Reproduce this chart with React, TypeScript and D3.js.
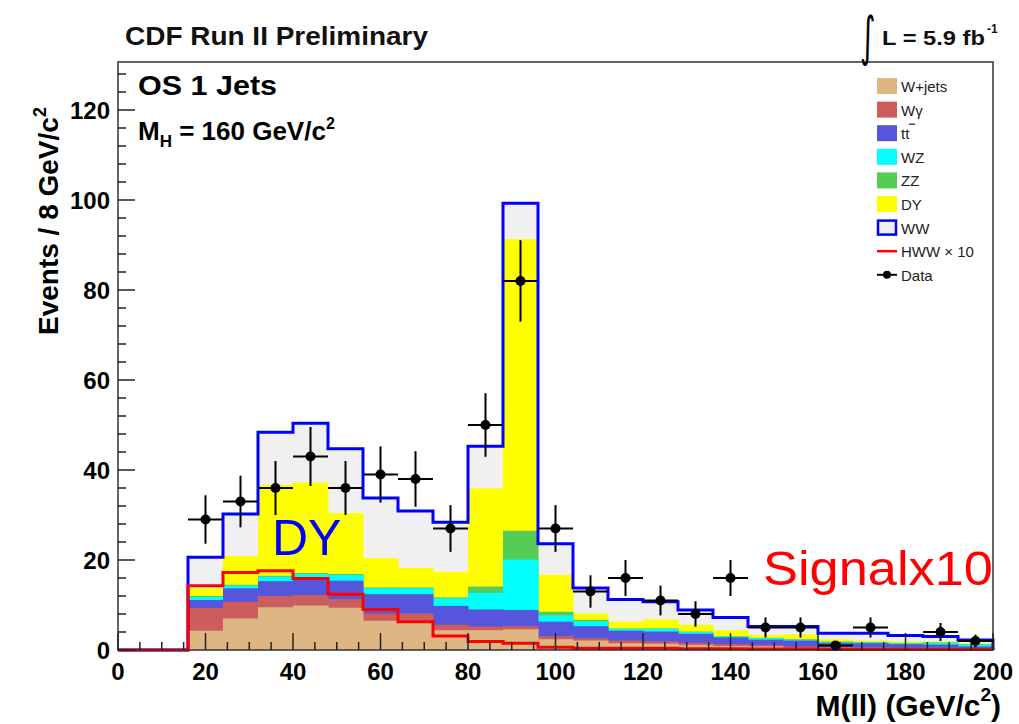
import React from "react";
import * as d3 from "d3";

// cumulative stack values per bin, 8 GeV bins from 0 .. 200 (first two bins empty)
const wjets = [0, 0, 4.3, 7.0, 9.5, 9.9, 9.4, 6.5, 6.5, 4.4, 4.4, 4.6, 2.4, 2.1, 1.5, 1.4, 1.1, 0.9, 0.8, 0.5, 0.4, 0.3, 0.3, 0.3, 0.2];
const wgamma = [0, 0, 5.0, 3.7, 2.5, 2.3, 1.9, 1.6, 1.6, 1.2, 0.8, 0.7, 0.7, 0.5, 0.6, 0.5, 0.5, 0.4, 0.3, 0.3, 0.3, 0.3, 0.2, 0.2, 0.2];
const ttbar = [0, 0, 1.8, 3.0, 3.3, 3.5, 4.1, 4.3, 4.3, 4.2, 3.8, 3.6, 3.2, 2.7, 2.2, 2.2, 2.0, 1.5, 1.2, 1.3, 0.9, 0.9, 0.8, 0.7, 0.4];
const wz = [0, 0, 0.7, 0.6, 1.0, 1.2, 1.3, 1.3, 1.3, 1.7, 3.7, 11.2, 1.4, 1.1, 0.4, 0.6, 0.4, 0.2, 0.3, 0.2, 0.2, 0.2, 0.2, 0.4, 0.4];
const zz = [0, 0, 0.2, 0.2, 0.2, 0.2, 0.2, 0.2, 0.2, 0.2, 1.4, 6.4, 0.8, 0.3, 0.1, 0.1, 0.1, 0.1, 0.1, 0.1, 0.1, 0.1, 0.1, 0.1, 0.1];
const dy = [0, 0, 1.7, 6.4, 20.2, 20.1, 13.5, 6.5, 4.4, 5.7, 21.8, 64.8, 8.2, 1.4, 1.5, 2.0, 1.5, 1.3, 0.6, 1.1, 0.5, 0.3, 0.3, 0.2, 0.2];
const ww = [0, 0, 6.9, 9.3, 11.7, 13.2, 14.3, 13.4, 12.6, 11.0, 9.4, 8.0, 6.9, 5.7, 4.9, 3.9, 3.3, 2.8, 1.9, 1.7, 1.3, 1.6, 1.3, 1.1, 0.7];
const signal = [0, 0, 14.3, 17.2, 17.6, 15.9, 12.4, 9.0, 6.3, 3.1, 1.9, 1.5, 0.6, 0.4, 0.4, 0.4, 0.3, 0.3, 0.2, 0.2, 0.1, 0.1, 0.1, 0.1, 0.1];
const dataCounts = [0, 0, 29, 33, 36, 43, 36, 39, 38, 27, 50, 82, 27, 13, 16, 11, 8, 16, 5, 5, 1, 5, 0, 4, 2];

const xTicks = [0, 20, 40, 60, 80, 100, 120, 140, 160, 180, 200];
const yTicks = [0, 20, 40, 60, 80, 100, 120];

const components = [
  { name: "W+jets", values: wjets, color: "#DDB684" },
  { name: "Wγ", values: wgamma, color: "#CD5C5C" },
  { name: "tt", values: ttbar, color: "#5656DC" },
  { name: "WZ", values: wz, color: "#00FFFF" },
  { name: "ZZ", values: zz, color: "#55CC55" },
  { name: "DY", values: dy, color: "#FFFF00" },
  { name: "WW", values: ww, color: "#F0F0F0" },
];

const W = 1019;
const H = 724;
const L = 118, R = 993, T = 62, B = 650;

export default function App() {
  const x = d3.scaleLinear().domain([0, 200]).range([L, R]);
  const y = d3.scaleLinear().domain([0, (B - T) / 4.5]).range([B, T]);
  const nb = wjets.length;
  const lo = (i: number) => i * 8;
  const hi = (i: number) => Math.min(200, i * 8 + 8);

  const cum: number[][] = [];
  let acc = new Array(nb).fill(0);
  components.forEach((c) => {
    acc = acc.map((a, i) => a + c.values[i]);
    cum.push(acc.slice());
  });

  const stepPath = (vals: number[]) => {
    const pts: [number, number][] = [];
    pts.push([x(0), y(0)]);
    vals.forEach((v, i) => {
      pts.push([x(lo(i)), y(v)]);
      pts.push([x(hi(i)), y(v)]);
    });
    pts.push([x(200), y(0)]);
    return d3.line()(pts) as string;
  };

  const xMinor = d3.range(0, 201, 5);
  const yMinor = d3.range(0, 131, 4);

  const legendItems = [
    { label: "W+jets", type: "box", color: "#DDB684" },
    { label: "Wγ", type: "box", color: "#CD5C5C" },
    { label: "tt", type: "box", color: "#5656DC" },
    { label: "WZ", type: "box", color: "#00FFFF" },
    { label: "ZZ", type: "box", color: "#55CC55" },
    { label: "DY", type: "box", color: "#FFFF00" },
    { label: "WW", type: "wwbox", color: "#F0F0F0" },
    { label: "HWW × 10", type: "line", color: "#FF0000" },
    { label: "Data", type: "data", color: "#000" },
  ];

  const font = "'Liberation Sans', Arial, Helvetica, sans-serif";

  return (
    <svg width={W} height={H} style={{ position: "absolute", left: 0, top: 0, background: "#fff" }} fontFamily={font}>
      <rect x={0} y={0} width={W} height={H} fill="#fff" />
      {[...cum].map((vals, k) => ({ vals, k })).reverse().map(({ vals, k }) => (
        <g key={k}>
          {vals.map((v, i) =>
            v > 0 ? (
              <rect key={i} x={x(lo(i))} y={y(v)} width={x(hi(i)) - x(lo(i)) + 0.5} height={y(0) - y(v)} fill={components[k].color} />
            ) : null
          )}
        </g>
      ))}
      <path d={stepPath(cum[cum.length - 1])} fill="none" stroke="#0000FF" strokeWidth={3} />
      <path d={stepPath(signal)} fill="none" stroke="#FF0000" strokeWidth={3} />

      <rect x={L} y={T} width={R - L} height={B - T} fill="none" stroke="#333" strokeWidth={1.5} />
      {xMinor.map((t) => (
        <line key={"xm" + t} x1={x(t)} x2={x(t)} y1={B} y2={B - (t % 20 === 0 ? 17 : 8)} stroke="#222" strokeWidth={1.5} />
      ))}
      {yMinor.map((t) => (
        <line key={"ym" + t} x1={L} x2={L + (t % 20 === 0 ? 17 : 8)} y1={y(t)} y2={y(t)} stroke="#222" strokeWidth={1.5} />
      ))}
      {xTicks.map((t) => (
        <text key={"xl" + t} x={x(t)} y={B + 30} textAnchor="middle" fontSize={24} fontWeight="bold" fill="#000">{t}</text>
      ))}
      {yTicks.map((t) => (
        <text key={"yl" + t} x={L - 8} y={y(t) + 9} textAnchor="end" fontSize={24} fontWeight="bold" fill="#000">{t}</text>
      ))}

      {dataCounts.map((n, i) => {
        if (n <= 0) return null;
        const cx = x(lo(i) + 4);
        const cy = y(n);
        const e = Math.sqrt(n);
        return (
          <g key={"d" + i}>
            <line x1={x(lo(i))} x2={x(hi(i))} y1={cy} y2={cy} stroke="#000" strokeWidth={2} />
            <line x1={cx} x2={cx} y1={y(n + e)} y2={y(Math.max(0, n - e))} stroke="#000" strokeWidth={2} />
            <circle cx={cx} cy={cy} r={5} fill="#000" />
          </g>
        );
      })}

      {legendItems.map((it, j) => {
        const cy = 86 + j * 23.6;
        return (
          <g key={"lg" + j}>
            {it.type === "box" && <rect x={877} y={cy - 8} width={20} height={16} fill={it.color} />}
            {it.type === "wwbox" && <rect x={878} y={cy - 7} width={18} height={14} fill={it.color} stroke="#0000FF" strokeWidth={2.5} />}
            {it.type === "line" && <line x1={877} x2={897} y1={cy} y2={cy} stroke="#FF0000" strokeWidth={2.5} />}
            {it.type === "data" && (
              <g>
                <line x1={877} x2={897} y1={cy} y2={cy} stroke="#000" strokeWidth={2} />
                <circle cx={887} cy={cy} r={4} fill="#000" />
              </g>
            )}
            <text x={901} y={cy + 6} fontSize={15} fill="#222">{it.label}</text>
            {it.label === "tt" && <line x1={909} x2={915} y1={cy - 9} y2={cy - 9} stroke="#222" strokeWidth={1.2} />}
          </g>
        );
      })}

      <text x={125} y={45} fontSize={25} fontWeight="bold" textLength={303} lengthAdjust="spacingAndGlyphs" fill="#111">CDF Run II Preliminary</text>
      <text x={860} y={55} fontSize={54} fill="#000" fontFamily="'DejaVu Sans', sans-serif" transform="translate(860,55) scale(0.55,1) translate(-860,-55)">∫</text>
      <text x={882} y={45} fontSize={21} fontWeight="bold" textLength={103} lengthAdjust="spacingAndGlyphs" fill="#111">L = 5.9 fb</text>
      <text x={987} y={33} fontSize={12} fontWeight="bold" fill="#111">-1</text>

      <text x={138} y={95} fontSize={27} fontWeight={600} textLength={139} lengthAdjust="spacingAndGlyphs" fill="#000">OS 1 Jets</text>
      <text x={138} y={140} fontSize={26} fontWeight="bold" fill="#000">
        M<tspan fontSize={17} dy={7}>H</tspan><tspan dy={-7}> = 160 GeV/c</tspan><tspan fontSize={16} dy={-11}>2</tspan>
      </text>

      <text x={272} y={555} fontSize={50} fill="#0000FF">DY</text>
      <text x={763} y={585} fontSize={49} textLength={230} lengthAdjust="spacingAndGlyphs" fill="#FF0000">Signalx10</text>

      <text transform="translate(58,335) rotate(-90)" x={0} y={0} fontSize={28} fontWeight="bold" fill="#000">
        Events / 8 GeV/c<tspan fontSize={18} dy={-12}>2</tspan>
      </text>
      <text x={1001} y={716} textAnchor="end" fontSize={30} fontWeight="bold" fill="#000">
        M(ll) (GeV/c<tspan fontSize={19} dy={-15}>2</tspan><tspan dy={15}>)</tspan>
      </text>
    </svg>
  );
}
